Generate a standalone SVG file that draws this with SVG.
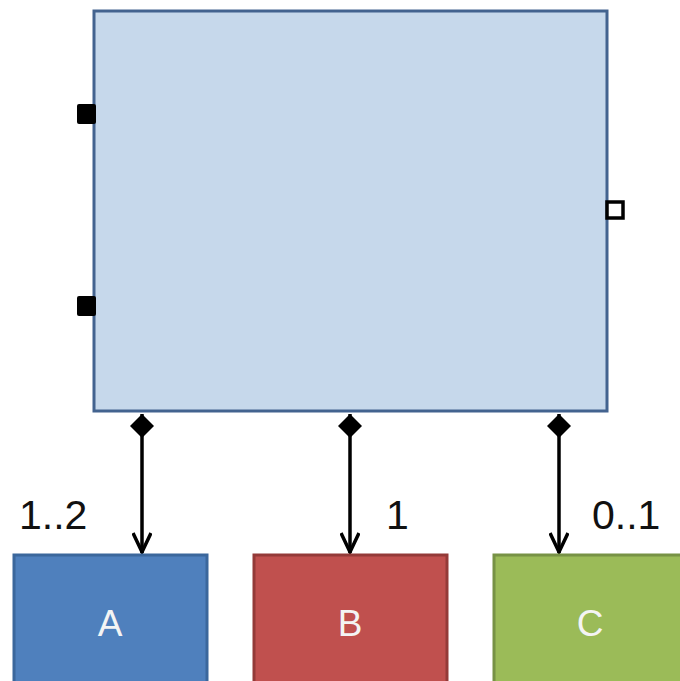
<svg xmlns="http://www.w3.org/2000/svg" width="680" height="681" viewBox="0 0 680 681">
  <defs>
    <marker id="open-arrow" viewBox="0 0 24 20" refX="22" refY="10" markerWidth="24" markerHeight="20" markerUnits="userSpaceOnUse" orient="auto">
      <path d="M2,1 L21,10 L2,19" fill="none" stroke="#000" stroke-width="3.5" stroke-linejoin="miter"/>
    </marker>
    <marker id="diamond" viewBox="0 0 26 24" refX="1" refY="12" markerWidth="26" markerHeight="24" markerUnits="userSpaceOnUse" orient="auto">
      <path d="M1,12 L13,0 L25,12 L13,24 Z" fill="#000"/>
    </marker>
  </defs>
  <style>
    .label { font-family: "Liberation Sans", Arial, sans-serif; font-size: 41px; fill: #111; }
    .name { font-family: "Liberation Sans", Arial, sans-serif; font-size: 37px; fill: #f4f4f4; text-anchor: middle; }
    .edge { stroke: #000; stroke-width: 3.5; fill: none; marker-start: url(#diamond); marker-end: url(#open-arrow); }
  </style>
  <rect width="680" height="681" fill="#fff"/>

  <g id="container">
    <rect x="94" y="11" width="513" height="400" fill="#c6d8eb" stroke="#43638f" stroke-width="3"/>
    <rect x="77" y="104" width="19" height="20" rx="2" fill="#000"/>
    <rect x="77" y="296" width="19" height="20" rx="2" fill="#000"/>
    <rect x="607" y="202" width="16" height="16" fill="#fff" stroke="#000" stroke-width="3.5"/>
  </g>

  <g id="connectors">
    <path class="edge" d="M142,414 L142,553"/>
    <path class="edge" d="M350,414 L350,553"/>
    <path class="edge" d="M559,414 L559,553"/>
    <text class="label" x="19" y="529">1..2</text>
    <text class="label" x="386" y="529">1</text>
    <text class="label" x="592" y="529">0..1</text>
  </g>

  <g id="node-a">
    <rect x="14" y="555" width="193" height="140" fill="#4f80bd" stroke="#3b679c" stroke-width="3"/>
    <text class="name" x="110" y="636">A</text>
  </g>
  <g id="node-b">
    <rect x="254" y="555" width="193" height="140" fill="#c0504e" stroke="#943a38" stroke-width="3"/>
    <text class="name" x="350" y="636">B</text>
  </g>
  <g id="node-c">
    <rect x="494" y="555" width="193" height="140" fill="#9bbb58" stroke="#779245" stroke-width="3"/>
    <text class="name" x="590" y="636">C</text>
  </g>
</svg>
